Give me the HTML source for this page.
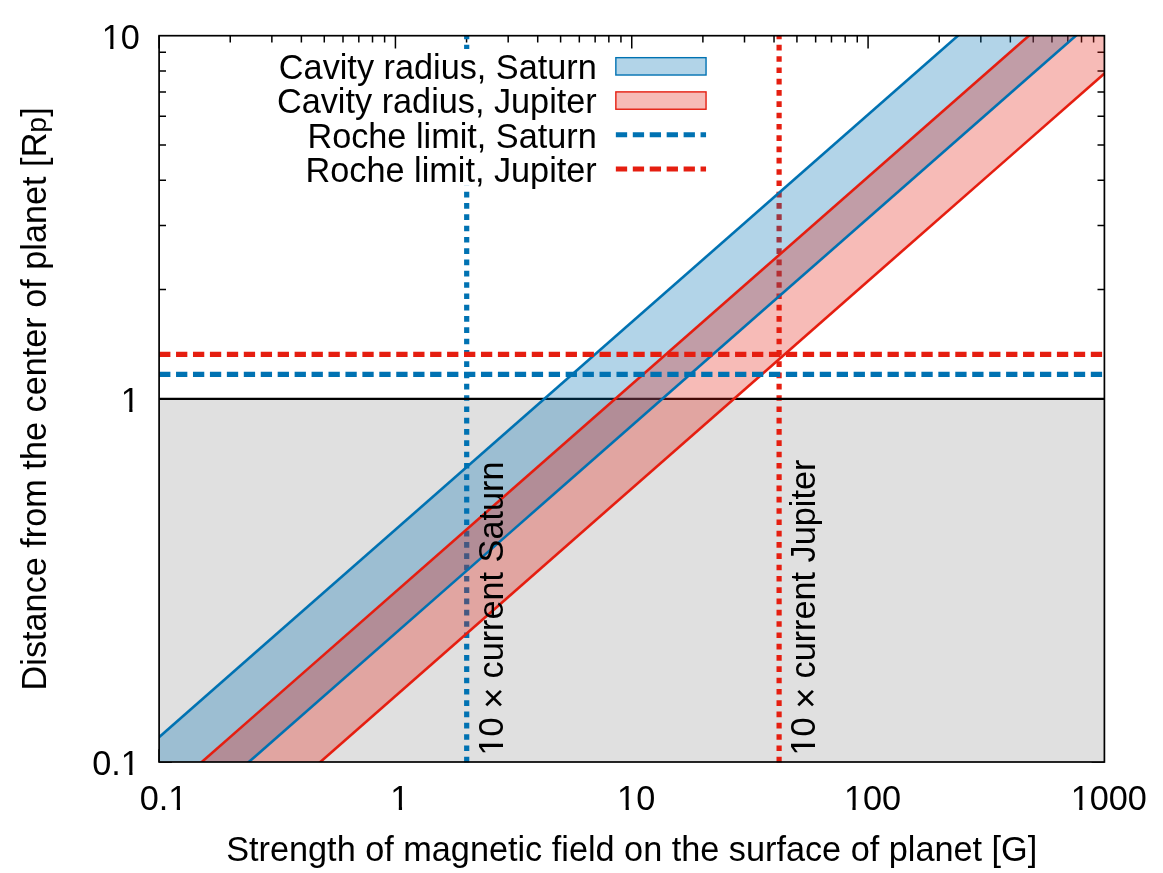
<!DOCTYPE html>
<html lang="en"><head><meta charset="utf-8"><title>Cavity radius vs magnetic field</title>
<style>html,body{margin:0;padding:0;background:#fff;}body{width:1163px;height:873px;overflow:hidden;}svg{display:block;will-change:transform;}text{font-family:"Liberation Sans",sans-serif;fill:#000;}</style></head><body>
<svg width="1163" height="873" viewBox="0 0 1163 873">
<defs><clipPath id="pc"><rect x="159.1" y="35.7" width="945.3" height="726.3"/></clipPath></defs>
<rect x="0" y="0" width="1163" height="873" fill="#fff"/>
<path d="M159.1 35.7v12.8M159.1 762v-12.8M230.24 35.7v6.9M230.24 762v-6.9M271.86 35.7v6.9M271.86 762v-6.9M301.38 35.7v6.9M301.38 762v-6.9M324.28 35.7v6.9M324.28 762v-6.9M343 35.7v6.9M343 762v-6.9M358.82 35.7v6.9M358.82 762v-6.9M372.52 35.7v6.9M372.52 762v-6.9M384.61 35.7v6.9M384.61 762v-6.9M395.43 35.7v12.8M395.43 762v-12.8M466.57 35.7v6.9M466.57 762v-6.9M508.18 35.7v6.9M508.18 762v-6.9M537.71 35.7v6.9M537.71 762v-6.9M560.61 35.7v6.9M560.61 762v-6.9M579.32 35.7v6.9M579.32 762v-6.9M595.14 35.7v6.9M595.14 762v-6.9M608.85 35.7v6.9M608.85 762v-6.9M620.94 35.7v6.9M620.94 762v-6.9M631.75 35.7v12.8M631.75 762v-12.8M702.89 35.7v6.9M702.89 762v-6.9M744.51 35.7v6.9M744.51 762v-6.9M774.03 35.7v6.9M774.03 762v-6.9M796.93 35.7v6.9M796.93 762v-6.9M815.65 35.7v6.9M815.65 762v-6.9M831.47 35.7v6.9M831.47 762v-6.9M845.17 35.7v6.9M845.17 762v-6.9M857.26 35.7v6.9M857.26 762v-6.9M868.08 35.7v12.8M868.08 762v-12.8M939.22 35.7v6.9M939.22 762v-6.9M980.83 35.7v6.9M980.83 762v-6.9M1010.36 35.7v6.9M1010.36 762v-6.9M1033.26 35.7v6.9M1033.26 762v-6.9M1051.97 35.7v6.9M1051.97 762v-6.9M1067.79 35.7v6.9M1067.79 762v-6.9M1081.5 35.7v6.9M1081.5 762v-6.9M1093.59 35.7v6.9M1093.59 762v-6.9M159.1 762h12.8M1104.4 762h-12.8M159.1 652.68h6.9M1104.4 652.68h-6.9M159.1 588.73h6.9M1104.4 588.73h-6.9M159.1 543.36h6.9M1104.4 543.36h-6.9M159.1 508.17h6.9M1104.4 508.17h-6.9M159.1 479.41h6.9M1104.4 479.41h-6.9M159.1 455.1h6.9M1104.4 455.1h-6.9M159.1 434.04h6.9M1104.4 434.04h-6.9M159.1 415.47h6.9M1104.4 415.47h-6.9M159.1 398.85h12.8M1104.4 398.85h-12.8M159.1 289.53h6.9M1104.4 289.53h-6.9M159.1 225.58h6.9M1104.4 225.58h-6.9M159.1 180.21h6.9M1104.4 180.21h-6.9M159.1 145.02h6.9M1104.4 145.02h-6.9M159.1 116.26h6.9M1104.4 116.26h-6.9M159.1 91.95h6.9M1104.4 91.95h-6.9M159.1 70.89h6.9M1104.4 70.89h-6.9M159.1 52.32h6.9M1104.4 52.32h-6.9" stroke="#000" stroke-width="1.5" fill="none"/>
<rect x="159.1" y="398.85" width="945.3" height="363.15" fill="#E0E0E0"/>
<path d="M466.7 762.4V35.7" stroke="#0072B2" stroke-width="5.2" stroke-dasharray="5.65 5.65" fill="none"/>
<path d="M779.1 762.4V35.7" stroke="#E51E10" stroke-width="5.2" stroke-dasharray="5.65 5.65" fill="none"/>
<rect x="275" y="49" width="437" height="136.85" fill="#fff"/>
<path d="M159.1 398.85H1104.4" stroke="#000" stroke-width="2.4"/>
<g clip-path="url(#pc)">
<path d="M109.1 781.07L1154.4 -136.8L1154.4 -33.23L109.1 884.64Z" fill="#0072B2" fill-opacity="0.3"/>
<path d="M109.1 843.37L1154.4 -74.5L1154.4 29.6L109.1 947.46Z" fill="#E51E10" fill-opacity="0.3"/>
<path d="M109.1 781.07L1154.4 -136.8" stroke="#0072B2" stroke-width="2.6" fill="none"/>
<path d="M109.1 884.64L1154.4 -33.23" stroke="#0072B2" stroke-width="2.6" fill="none"/>
<path d="M109.1 843.37L1154.4 -74.5" stroke="#E51E10" stroke-width="2.6" fill="none"/>
<path d="M109.1 947.46L1154.4 29.6" stroke="#E51E10" stroke-width="2.6" fill="none"/>
</g>
<path d="M159.1 374.4H1104.4" stroke="#0072B2" stroke-width="5.2" stroke-dasharray="11.3 5.64" fill="none"/>
<path d="M159.1 354.3H1104.4" stroke="#E51E10" stroke-width="5.2" stroke-dasharray="11.3 5.64" fill="none"/>
<rect x="159.1" y="35.7" width="945.3" height="726.3" fill="none" stroke="#000" stroke-width="1.7"/>
<text x="596.75" y="78.9" font-size="34.25" text-anchor="end">Cavity radius, Saturn</text>
<rect x="615.85" y="57.67" width="90.2" height="17.35" fill="#0072B2" fill-opacity="0.3" stroke="none"/>
<rect x="615.85" y="57.67" width="90.2" height="17.35" fill="none" stroke="#0072B2" stroke-width="1.4"/>
<text x="596.75" y="113.25" font-size="34.25" text-anchor="end">Cavity radius, Jupiter</text>
<rect x="615.85" y="91.89" width="90.2" height="17.35" fill="#E51E10" fill-opacity="0.3" stroke="none"/>
<rect x="615.85" y="91.89" width="90.2" height="17.35" fill="none" stroke="#E51E10" stroke-width="1.4"/>
<text x="596.75" y="147.6" font-size="34.25" text-anchor="end">Roche limit, Saturn</text>
<path d="M615.85 134.77H706.05" stroke="#0072B2" stroke-width="5.2" stroke-dasharray="11.3 5.64" fill="none"/>
<text x="596.75" y="181.95" font-size="34.25" text-anchor="end">Roche limit, Jupiter</text>
<path d="M615.85 168.98H706.05" stroke="#E51E10" stroke-width="5.2" stroke-dasharray="11.3 5.64" fill="none"/>
<clipPath id="c1"><path clip-rule="evenodd" d="M0 0H1163V873H0ZM169.67 806.69H176.77V811.5H169.67ZM180 806.69H186.83V811.5H180Z"/></clipPath>
<text clip-path="url(#c1)" x="139.69 158.74 168.26" y="810" font-size="34.25">0.1</text>
<clipPath id="c2"><path clip-rule="evenodd" d="M0 0H1163V873H0ZM391.71 806.69H398.81V811.5H391.71ZM402.04 806.69H408.88V811.5H402.04Z"/></clipPath>
<text clip-path="url(#c2)" x="390.3" y="810" font-size="34.25">1</text>
<clipPath id="c3"><path clip-rule="evenodd" d="M0 0H1163V873H0ZM618.51 806.69H625.61V811.5H618.51ZM628.84 806.69H635.68V811.5H628.84Z"/></clipPath>
<text clip-path="url(#c3)" x="617.1 636.15" y="810" font-size="34.25">10</text>
<clipPath id="c4"><path clip-rule="evenodd" d="M0 0H1163V873H0ZM845.31 806.69H852.42V811.5H845.31ZM855.64 806.69H862.48V811.5H855.64Z"/></clipPath>
<text clip-path="url(#c4)" x="843.9 862.95 882" y="810" font-size="34.25">100</text>
<clipPath id="c5"><path clip-rule="evenodd" d="M0 0H1163V873H0ZM1072.11 806.69H1079.22V811.5H1072.11ZM1082.44 806.69H1089.28V811.5H1082.44Z"/></clipPath>
<text clip-path="url(#c5)" x="1070.7 1089.75 1108.8 1127.85" y="810" font-size="34.25">1000</text>
<clipPath id="c6"><path clip-rule="evenodd" d="M0 0H1163V873H0ZM122.16 771.69H129.26V776.5H122.16ZM132.49 771.69H139.33V776.5H132.49Z"/></clipPath>
<text clip-path="url(#c6)" x="92.19 111.24 120.75" y="775" font-size="34.25">0.1</text>
<clipPath id="c7"><path clip-rule="evenodd" d="M0 0H1163V873H0ZM122.16 408.69H129.26V413.5H122.16ZM132.49 408.69H139.33V413.5H132.49Z"/></clipPath>
<text clip-path="url(#c7)" x="120.75" y="412" font-size="34.25">1</text>
<clipPath id="c8"><path clip-rule="evenodd" d="M0 0H1163V873H0ZM103.11 45.69H110.22V50.5H103.11ZM113.44 45.69H120.28V50.5H113.44Z"/></clipPath>
<text clip-path="url(#c8)" x="101.7 120.75" y="49" font-size="34.25">10</text>
<text x="631.75" y="861" font-size="34.25" text-anchor="middle">Strength of magnetic field on the surface of planet [G]</text>
<text transform="translate(45.8 398.85) rotate(-90)" font-size="34.25" text-anchor="middle">Distance from the center of planet [R<tspan font-size="28.43" dy="0.4">p</tspan><tspan dy="-0.4">]</tspan></text>
<g transform="translate(502.8 755.6) rotate(-90)">
<clipPath id="c9"><path clip-rule="evenodd" d="M-50 -60H400V30H-50ZM1.41 -3.31H8.51V1.5H1.41ZM11.74 -3.31H18.58V1.5H11.74Z"/></clipPath>
<text clip-path="url(#c9)" x="0" y="0" font-size="34.25">10 <tspan font-size="36.6" dx="-0.7" dy="2.7">×</tspan><tspan dx="-0.7" dy="-2.7"> current Saturn</tspan></text>
</g>
<g transform="translate(815.2 755.6) rotate(-90)">
<clipPath id="c10"><path clip-rule="evenodd" d="M-50 -60H400V30H-50ZM1.41 -3.31H8.51V1.5H1.41ZM11.74 -3.31H18.58V1.5H11.74Z"/></clipPath>
<text clip-path="url(#c10)" x="0" y="0" font-size="34.25">10 <tspan font-size="36.6" dx="-0.7" dy="2.7">×</tspan><tspan dx="-0.7" dy="-2.7"> current Jupiter</tspan></text>
</g>
</svg></body></html>
